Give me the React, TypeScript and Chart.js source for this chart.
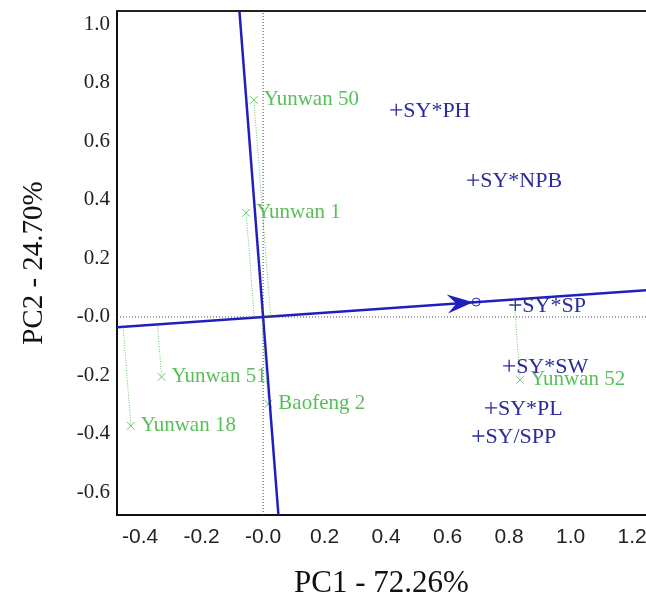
import React, { useEffect, useRef } from 'react';
import { Chart, registerables } from 'chart.js';

Chart.register(...registerables);

// Genotypes (green ×)
const GENOTYPES = ['Yunwan 50', 'Yunwan 1', 'Yunwan 51', 'Baofeng 2', 'Yunwan 18', 'Yunwan 52'];
const GEN_PC1 = [-0.03, -0.055, -0.33, 0.017, -0.43, 0.836];
const GEN_PC2 = [0.742, 0.356, -0.205, -0.297, -0.372, -0.215];

// Environments (blue +)
const ENVS = ['SY*PH', 'SY*NPB', 'SY*SP', 'SY*SW', 'SY*PL', 'SY/SPP'];
const ENV_PC1 = [0.433, 0.683, 0.82, 0.8, 0.741, 0.7];
const ENV_PC2 = [0.708, 0.468, 0.041, -0.167, -0.311, -0.407];

// Average environment (circle at the arrow)
const AEA_PC1 = 0.693;
const AEA_PC2 = 0.051;

// Axes
const X_MIN = -0.475;
const X_MAX = 1.245;
const Y_MIN = -0.677;
const Y_MAX = 1.046;
const X_TICKS = [-0.4, -0.2, 0, 0.2, 0.4, 0.6, 0.8, 1.0, 1.2];
const Y_TICKS = [-0.6, -0.4, -0.2, 0, 0.2, 0.4, 0.6, 0.8, 1.0];
const X_TITLE = 'PC1 - 72.26%';
const Y_TITLE = 'PC2 - 24.70%';

const BLUE = '#1f1fc0';
const NAVY = '#2b2b9c';
const GREEN = '#6cc66c';
const GREEN_TEXT = '#58bf58';

const fmt = (v: any) => (Math.abs(Number(v)) < 1e-9 ? '-0.0' : Number(v).toFixed(1));

export default function App() {
  const ref = useRef<HTMLCanvasElement>(null);

  useEffect(() => {
    const canvas = ref.current!;
    const slope = AEA_PC2 / AEA_PC1;
    const norm2 = AEA_PC1 * AEA_PC1 + AEA_PC2 * AEA_PC2;

    const line = (data: any[], color: string, width: number, dash: number[] = []) => ({
      data,
      showLine: true,
      borderColor: color,
      backgroundColor: color,
      borderWidth: width,
      borderDash: dash,
      pointRadius: 0,
      fill: false,
    });

    const datasets: any[] = [];
    // zero reference lines
    datasets.push(line([{ x: 0, y: Y_MIN }, { x: 0, y: Y_MAX }], '#444', 1, [1, 2]));
    datasets.push(line([{ x: X_MIN, y: 0 }, { x: X_MAX, y: 0 }], '#444', 1, [1, 2]));
    // projections of genotypes onto the AEA axis
    GENOTYPES.forEach((_, i) => {
      const t = (GEN_PC1[i] * AEA_PC1 + GEN_PC2[i] * AEA_PC2) / norm2;
      datasets.push(
        line([{ x: GEN_PC1[i], y: GEN_PC2[i] }, { x: t * AEA_PC1, y: t * AEA_PC2 }], GREEN, 1, [1, 1.5])
      );
    });
    // AEA abscissa and ordinate
    datasets.push(line([{ x: X_MIN, y: slope * X_MIN }, { x: X_MAX, y: slope * X_MAX }], BLUE, 2.5));
    datasets.push(line([{ x: -slope * Y_MAX, y: Y_MAX }, { x: -slope * Y_MIN, y: Y_MIN }], BLUE, 2.5));
    // genotype markers
    datasets.push({
      data: GEN_PC1.map((x, i) => ({ x, y: GEN_PC2[i] })),
      pointStyle: 'crossRot',
      pointRadius: 5.5,
      borderColor: GREEN,
      borderWidth: 1,
      showLine: false,
    });
    // environment markers
    datasets.push({
      data: ENV_PC1.map((x, i) => ({ x, y: ENV_PC2[i] })),
      pointStyle: 'cross',
      pointRadius: 6,
      borderColor: NAVY,
      borderWidth: 1.3,
      showLine: false,
    });
    // average environment circle
    datasets.push({
      data: [{ x: AEA_PC1, y: AEA_PC2 }],
      pointStyle: 'circle',
      pointRadius: 4,
      borderColor: BLUE,
      backgroundColor: 'rgba(0,0,0,0)',
      borderWidth: 1,
      showLine: false,
    });

    const labelPlugin = {
      id: 'biplotLabels',
      afterDatasetsDraw(chart: any) {
        const { ctx, chartArea, scales } = chart;
        const xs = scales.x;
        const ys = scales.y;
        ctx.save();
        // top frame line
        ctx.strokeStyle = '#222';
        ctx.lineWidth = 2;
        ctx.beginPath();
        ctx.moveTo(chartArea.left - 1, chartArea.top);
        ctx.lineTo(chartArea.right, chartArea.top);
        ctx.stroke();

        // arrowhead
        const px = xs.getPixelForValue(AEA_PC1);
        const py = ys.getPixelForValue(AEA_PC2);
        const ox = xs.getPixelForValue(0);
        const oy = ys.getPixelForValue(0);
        const ang = Math.atan2(py - oy, px - ox);
        ctx.save();
        ctx.translate(px, py);
        ctx.rotate(ang);
        ctx.fillStyle = BLUE;
        ctx.beginPath();
        ctx.moveTo(-3, 0);
        ctx.lineTo(-29, -9.5);
        ctx.lineTo(-20, 0);
        ctx.lineTo(-29, 9.5);
        ctx.closePath();
        ctx.fill();
        ctx.restore();

        // genotype labels
        ctx.textBaseline = 'middle';
        ctx.textAlign = 'left';
        ctx.font = '21px "Liberation Serif", "Times New Roman", serif';
        ctx.fillStyle = GREEN_TEXT;
        GENOTYPES.forEach((name, i) => {
          ctx.fillText(name, xs.getPixelForValue(GEN_PC1[i]) + 10, ys.getPixelForValue(GEN_PC2[i]));
        });
        // environment labels
        ctx.font = '22px "Liberation Serif", "Times New Roman", serif';
        ctx.fillStyle = NAVY;
        ENVS.forEach((name, i) => {
          ctx.fillText(name, xs.getPixelForValue(ENV_PC1[i]) + 7, ys.getPixelForValue(ENV_PC2[i]) + 1);
        });
        ctx.restore();
      },
    };

    const chart = new Chart(canvas, {
      type: 'scatter',
      data: { datasets },
      options: {
        responsive: false,
        animation: false,
        devicePixelRatio: 1,
        layout: { autoPadding: false, padding: { top: 11, left: 0, right: 0, bottom: 0 } },
        plugins: { legend: { display: false }, tooltip: { enabled: false } },
        scales: {
          x: {
            type: 'linear',
            min: X_MIN,
            max: X_MAX,
            afterBuildTicks: (s: any) => {
              s.ticks = X_TICKS.map((v) => ({ value: v }));
            },
            afterFit: (s: any) => {
              s.height = 84;
              s.paddingLeft = 0;
              s.paddingRight = 0;
            },
            grid: { display: false, drawTicks: false },
            border: { display: true, color: '#111', width: 2 },
            ticks: {
              padding: 10,
              color: '#222',
              font: { family: '"Liberation Sans", Arial, sans-serif', size: 21 },
              callback: fmt,
              maxRotation: 0,
              autoSkip: false,
            },
            title: {
              display: true,
              text: X_TITLE,
              color: '#111',
              font: { family: '"Liberation Serif", "Times New Roman", serif', size: 31, lineHeight: 1 },
              padding: { top: 0, bottom: 0 },
            },
          },
          y: {
            type: 'linear',
            min: Y_MIN,
            max: Y_MAX,
            afterBuildTicks: (s: any) => {
              s.ticks = Y_TICKS.map((v) => ({ value: v }));
            },
            afterFit: (s: any) => {
              s.width = 117;
              s.paddingTop = 0;
              s.paddingBottom = 0;
            },
            grid: { display: false, drawTicks: false },
            border: { display: true, color: '#111', width: 2 },
            ticks: {
              padding: 7,
              color: '#222',
              font: { family: '"Liberation Serif", "Times New Roman", serif', size: 21 },
              callback: fmt,
              autoSkip: false,
            },
            title: {
              display: true,
              text: Y_TITLE,
              color: '#111',
              font: { family: '"Liberation Serif", "Times New Roman", serif', size: 29, lineHeight: 1 },
              padding: { top: 20, bottom: 0 },
            },
          },
        },
      },
      plugins: [labelPlugin],
    } as any);

    return () => chart.destroy();
  }, []);

  return (
    <div
      style={{
        position: 'fixed',
        left: 0,
        top: 0,
        width: 646,
        height: 599,
        overflow: 'hidden',
        background: '#fff',
      }}
    >
      <canvas ref={ref} width={646} height={599} style={{ display: 'block' }} />
    </div>
  );
}
